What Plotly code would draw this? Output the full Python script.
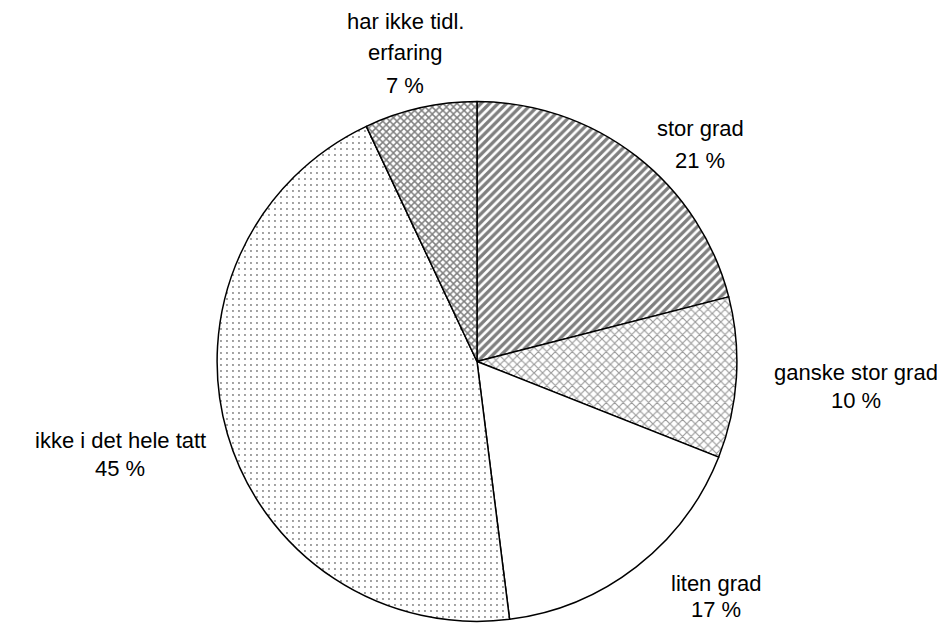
import plotly.graph_objects as go

categories = ["stor grad", "ganske stor grad", "liten grad", "ikke i det hele tatt", "har ikke tidl. erfaring"]
values = [21, 10, 17, 45, 7]
label_lines = [["stor grad"], ["ganske stor grad"], ["liten grad"], ["ikke i det hele tatt"], ["har ikke tidl.", "erfaring"]]

patterns = [
    dict(shape="/", size=6, solidity=0.55, fgcolor="black", bgcolor="white"),
    dict(shape="x", size=6, solidity=0.35, fgcolor="#333333", bgcolor="white"),
    dict(shape="", fgcolor="black", bgcolor="white"),
    dict(shape=".", size=6, solidity=0.08, fgcolor="black", bgcolor="white"),
    dict(shape="x", size=5, solidity=0.5, fgcolor="black", bgcolor="white"),
]

fig = go.Figure(go.Pie(
    labels=categories,
    values=values,
    sort=False,
    direction="clockwise",
    rotation=0,
    textinfo="none",
    hoverinfo="label+percent",
    marker=dict(
        colors=["white"] * 5,
        line=dict(color="black", width=1.5),
        pattern=dict(
            shape=[p["shape"] for p in patterns],
            size=[p.get("size", 6) for p in patterns],
            solidity=[p.get("solidity", 0.3) for p in patterns],
            fgcolor=[p["fgcolor"] for p in patterns],
            bgcolor=[p["bgcolor"] for p in patterns],
            fillmode="overlay",
        ),
    ),
    domain=dict(x=[0.2212, 0.7714], y=[0.017, 0.850]),
    showlegend=False,
))

# page body margin offsets the figure by 8 px
OFF = 8
# label placement: (center x, first line y, line spacing) in screen pixels
label_pos = [(700, 129, 31), (856, 372, 28), (716, 583, 26), (120, 440, 28), (405, 21, 32)]
annotations = []
for (px, py, dy), lines, v in zip(label_pos, label_lines, values):
    all_lines = lines + [f"{v} %"]
    for i, ln in enumerate(all_lines):
        annotations.append(dict(
            x=(px - OFF) / 945, y=1 - (py - OFF + i * dy) / 624, xref="paper", yref="paper",
            text=ln, showarrow=False, align="center",
            xanchor="center", yanchor="middle",
            font=dict(family="Liberation Sans, Arial, sans-serif", size=22, color="black"),
        ))

fig.update_layout(
    width=945, height=624,
    margin=dict(l=0, r=0, t=0, b=0),
    paper_bgcolor="white", plot_bgcolor="white",
    annotations=annotations,
)

fig.write_html("out.html")
